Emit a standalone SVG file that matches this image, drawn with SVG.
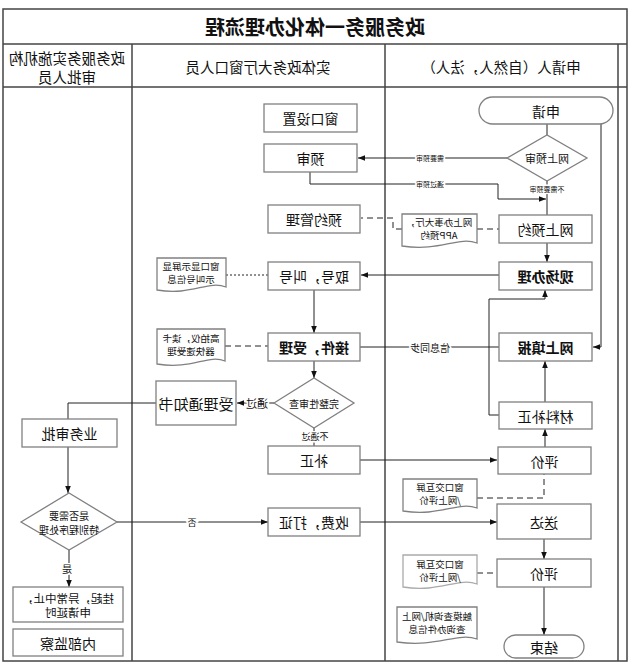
<svg xmlns="http://www.w3.org/2000/svg" width="630" height="667" viewBox="0 0 630 667">
<defs>
<style>
text{font-family:"Noto Sans CJK SC","Noto Sans",sans-serif;fill:#111;text-anchor:middle;dominant-baseline:central}
.box{fill:#fff;stroke:#808080;stroke-width:1.3}
.bd{font-weight:bold}
.lane{fill:none;stroke:#444;stroke-width:1.5}
.ln{fill:none;stroke:#222;stroke-width:1}
.dash{stroke-dasharray:6 4}
.dot{stroke-dasharray:2 2}
.lbl{stroke:#fff;stroke-width:3;paint-order:stroke}
.t14{font-size:14px}
.t10{font-size:9.5px}
.t7{font-size:7px}
.hd{font-size:14.5px}
</style>
<marker id="ah" viewBox="0 0 10 10" refX="10" refY="5" markerWidth="7" markerHeight="7" orient="auto"><path d="M0,1 L10,5 L0,9 z" fill="#111"/></marker>
</defs>
<rect width="630" height="667" fill="#fff"/>
<g id="lanes">
<rect class="lane" x="3" y="9" width="624" height="652"/>
<line class="lane" x1="3" y1="44" x2="627" y2="44"/>
<line class="lane" x1="3" y1="87" x2="627" y2="87"/>
<line class="lane" x1="132" y1="44" x2="132" y2="661"/>
<line class="lane" x1="385" y1="44" x2="385" y2="661"/>
<line class="lane" x1="618" y1="44" x2="618" y2="661"/>
<text transform="scale(-1,1)" x="-315" y="26" style="font-size:20px;font-weight:bold">政务服务一体化办理流程</text>
<text class="hd" transform="scale(-1,1)" x="-67" y="57">政务服务实施机构</text>
<text class="hd" transform="scale(-1,1)" x="-67" y="76">审批人员</text>
<text class="hd" transform="scale(-1,1)" x="-258" y="66">实体政务大厅窗口人员</text>
<text class="hd" transform="scale(-1,1)" x="-501" y="66">申请人（自然人，法人）</text>
</g>
<g id="connectors">
<path class="ln" d="M547,124 V135"/>
<path class="ln" d="M601,121 V347 H593" marker-end="url(#ah)"/>
<path class="ln" d="M507,158 H358" marker-end="url(#ah)"/>
<path class="ln" d="M547,181 V215"/>
<path class="ln" d="M310,172 V184 H498 V199 H546" marker-end="url(#ah)"/>
<path class="ln" d="M547,243 V262" marker-end="url(#ah)"/>
<path class="ln" d="M499,275 H361" marker-end="url(#ah)"/>
<path class="ln dash" d="M477,229 H499"/>
<path class="ln dash" d="M402,229 H393 V218 H361"/>
<path class="ln dot" d="M226,275 H268"/>
<path class="ln" d="M314,290 V333" marker-end="url(#ah)"/>
<path class="ln dash" d="M225,346 H268"/>
<path class="ln" d="M499,347 H360"/>
<path class="ln" d="M314,361 V378" marker-end="url(#ah)"/>
<path class="ln" d="M274,403 H237" marker-end="url(#ah)"/>
<path class="ln" d="M314,428 V446"/>
<path class="ln" d="M360,460 H497" marker-end="url(#ah)"/>
<path class="ln" d="M360,522 H497" marker-end="url(#ah)"/>
<path class="ln" d="M117,522 H268" marker-end="url(#ah)"/>
<path class="ln" d="M156,403 H68 V419"/>
<path class="ln" d="M68,447 V493" marker-end="url(#ah)"/>
<path class="ln" d="M69,550 V587" marker-end="url(#ah)"/>
<path class="ln" d="M545,402 V361" marker-end="url(#ah)"/>
<path class="ln" d="M499,415 H489 V299 H545 V290" marker-end="url(#ah)"/>
<path class="ln" d="M545,447 V429" marker-end="url(#ah)"/>
<path class="ln dash" d="M477,498 H544 V474"/>
<path class="ln" d="M544,539 V559" marker-end="url(#ah)"/>
<path class="ln dash" d="M477,573 H497"/>
<path class="ln" d="M544,587 V635" marker-end="url(#ah)"/>
<text class="lbl t7" transform="scale(-1,1)" x="-430" y="158">需要预审</text>
<text class="lbl t7" transform="scale(-1,1)" x="-547" y="189">不需要预审</text>
<text class="lbl t7" transform="scale(-1,1)" x="-430" y="184">通过预审</text>
<text class="lbl" style="font-size:10px" transform="scale(-1,1)" x="-430" y="347">信息同步</text>
<text class="lbl" style="font-size:11px" transform="scale(-1,1)" x="-257" y="403">通过</text>
<text class="lbl" style="font-size:9px" transform="scale(-1,1)" x="-315" y="436">不通过</text>
<text class="lbl" style="font-size:9px" transform="scale(-1,1)" x="-192" y="522">否</text>
<text class="lbl" style="font-size:10px" transform="scale(-1,1)" x="-67" y="568">是</text>
</g>
<g id="n-shenqing"><rect class="box" x="479" y="97" width="134" height="27" rx="13.5"/><text class="t14" transform="scale(-1,1)" x="-546" y="110.5">申请</text></g>
<g id="n-wangshangyushen"><polygon class="box" points="507,158 547,135 587,158 547,181"/><text style="font-size:11px" transform="scale(-1,1)" x="-547" y="158">网上预审</text></g>
<g id="n-wangshangyuyue"><rect class="box" x="499" y="215" width="93" height="28"/><text class="t14" transform="scale(-1,1)" x="-545.5" y="229">网上预约</text></g>
<g id="n-xianchang"><rect class="box" x="499" y="262" width="93" height="28"/><text class="t14 bd" transform="scale(-1,1)" x="-545.5" y="276">现场办理</text></g>
<g id="n-wangshangtianbao"><rect class="box" x="499" y="333" width="93" height="28"/><text class="t14 bd" transform="scale(-1,1)" x="-545.5" y="347">网上填报</text></g>
<g id="n-cailiaobuzheng"><rect class="box" x="499" y="402" width="93" height="27"/><text class="t14" transform="scale(-1,1)" x="-545.5" y="415.5">材料补正</text></g>
<g id="n-pingjia1"><rect class="box" x="498" y="447" width="93" height="27"/><text class="t14" transform="scale(-1,1)" x="-544.5" y="460.5">评价</text></g>
<g id="n-songda"><rect class="box" x="497" y="504" width="94" height="35"/><text class="t14" transform="scale(-1,1)" x="-544" y="521.5">送达</text></g>
<g id="n-pingjia2"><rect class="box" x="497" y="559" width="94" height="28"/><text class="t14" transform="scale(-1,1)" x="-544" y="573">评价</text></g>
<g id="n-jieshu"><rect class="box" x="504" y="635" width="80" height="23" rx="11.5"/><text class="t14" transform="scale(-1,1)" x="-544" y="646.5">结束</text></g>
<g id="d-app"><path class="box" d="M402,214 H477 V243 C458,236 440,252 402,246 Z"/><text class="t10" transform="scale(-1,1)" x="-439" y="222">网上办事大厅，</text><text class="t10" transform="scale(-1,1)" x="-439" y="235">APP预约</text></g>
<g id="d-pingjia1"><path class="box" d="M403,479 H477 V508 C458,501 440,517 403,511 Z"/><text class="t10" transform="scale(-1,1)" x="-440" y="487">窗口交互屏</text><text class="t10" transform="scale(-1,1)" x="-440" y="500">/网上评价</text></g>
<g id="d-pingjia2"><path class="box" style="stroke:#aaa" d="M403,555 H477 V584 C458,577 440,593 403,587 Z"/><text class="t10" transform="scale(-1,1)" x="-440" y="564">窗口交互屏</text><text class="t10" transform="scale(-1,1)" x="-440" y="577">/网上评价</text></g>
<g id="d-chumo"><path class="box" d="M397,607 H477 V639 C457,632 437,648 397,642 Z"/><text class="t10" transform="scale(-1,1)" x="-437" y="616">触摸查询机/网上</text><text class="t10" transform="scale(-1,1)" x="-437" y="629">查询办件信息</text></g>
<g id="n-chuangkou"><rect class="box" x="264" y="104" width="93" height="28"/><text class="t14" transform="scale(-1,1)" x="-310.5" y="118">窗口设置</text></g>
<g id="n-yushen"><rect class="box" x="264" y="144" width="93" height="28"/><text class="t14" transform="scale(-1,1)" x="-310.5" y="158">预审</text></g>
<g id="n-yuyueguanli"><rect class="box" x="268" y="205" width="92" height="28"/><text class="t14" transform="scale(-1,1)" x="-314" y="219">预约管理</text></g>
<g id="n-quhao"><rect class="box" x="268" y="262" width="92" height="28"/><text class="t14" transform="scale(-1,1)" x="-314" y="276">取号，叫号</text></g>
<g id="n-jiejian"><rect class="box" x="268" y="333" width="92" height="28"/><text class="t14 bd" transform="scale(-1,1)" x="-314" y="347">接件，受理</text></g>
<g id="n-wanzheng"><polygon class="box" points="274,403 314,378 354,403 314,428"/><text style="font-size:10px" transform="scale(-1,1)" x="-314" y="403">完整性审查</text></g>
<g id="n-shouli"><rect class="box" x="156" y="381" width="80" height="44"/><text style="font-size:15px" transform="scale(-1,1)" x="-196" y="403">受理通知书</text></g>
<g id="n-buzheng"><rect class="box" x="268" y="446" width="92" height="28"/><text class="t14" transform="scale(-1,1)" x="-314" y="460">补正</text></g>
<g id="n-shoufei"><rect class="box" x="268" y="508" width="92" height="28"/><text class="t14" transform="scale(-1,1)" x="-314" y="522">收费，打证</text></g>
<g id="d-xianshi"><path class="box" d="M157,258 H226 V287 C208,280 192,296 157,290 Z"/><text class="t10" transform="scale(-1,1)" x="-191" y="266">窗口显示屏显</text><text class="t10" transform="scale(-1,1)" x="-191" y="279">示叫号信息</text></g>
<g id="d-gaopai"><path class="box" d="M157,329 H225 V361 C208,354 192,370 157,364 Z"/><text class="t10" transform="scale(-1,1)" x="-191" y="338">高拍仪，读卡</text><text class="t10" transform="scale(-1,1)" x="-191" y="351">器快速受理</text></g>
<g id="n-yewu"><rect class="box" x="22" y="419" width="95" height="28"/><text class="t14" transform="scale(-1,1)" x="-69.5" y="433">业务审批</text></g>
<g id="n-tebie"><polygon class="box" points="21,522 69,493 117,522 69,550"/><text style="font-size:10px" transform="scale(-1,1)" x="-69" y="515">是否需要</text><text style="font-size:10px" transform="scale(-1,1)" x="-69" y="529">特别程序处理</text></g>
<g id="n-guaqi"><rect class="box" x="13" y="587" width="110" height="35"/><text style="font-size:11.5px" transform="scale(-1,1)" x="-68" y="597.5">挂起，异常中止，</text><text style="font-size:11.5px" transform="scale(-1,1)" x="-68" y="612">申请延时</text></g>
<g id="n-jiancha"><rect class="box" x="13" y="629" width="110" height="27"/><text class="t14" transform="scale(-1,1)" x="-68" y="642.5">内部监察</text></g>
</svg>
